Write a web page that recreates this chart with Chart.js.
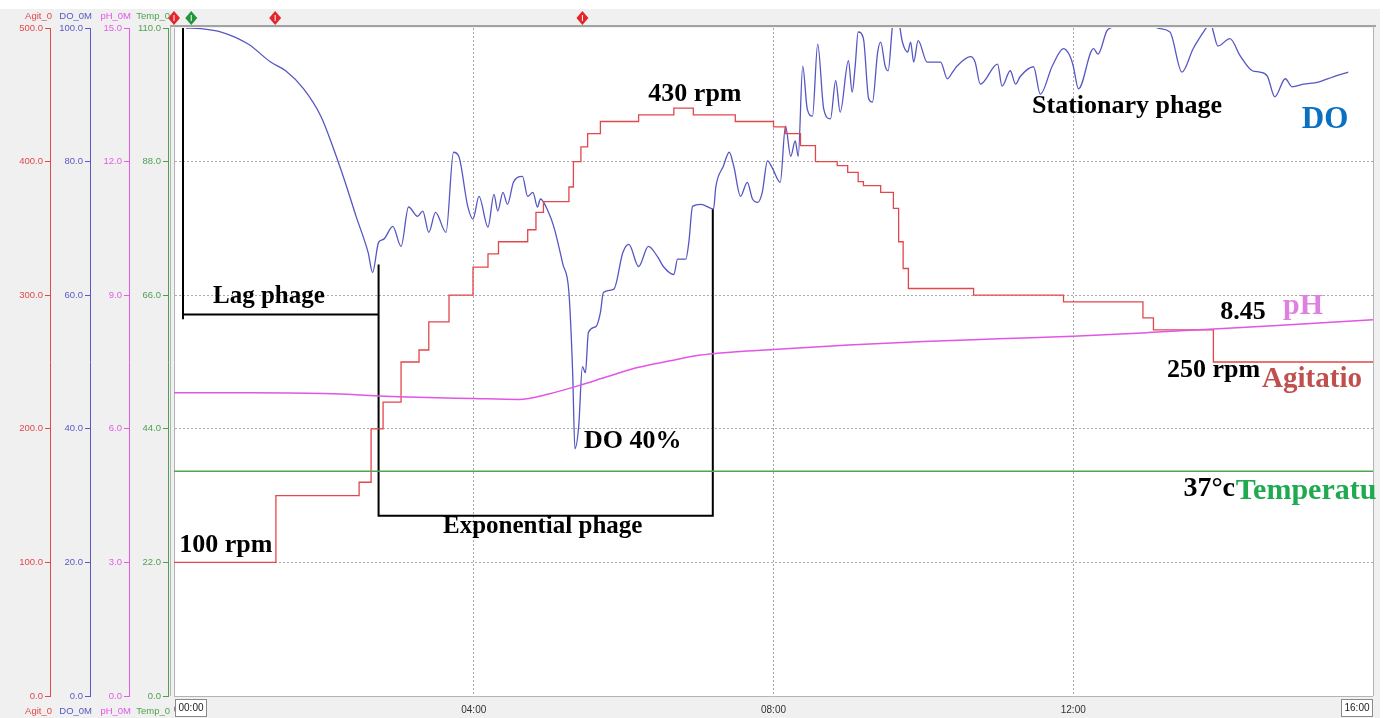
<!DOCTYPE html>
<html lang="en">
<head>
<meta charset="UTF-8">
<title>Fermentation run</title>
<script src="https://cdn.jsdelivr.net/npm/chart.js@4/dist/chart.umd.min.js"></script>
<style>
  html, body { margin: 0; padding: 0; background: #fff; }
  canvas { display: block; }
</style>
</head>
<body>
<canvas id="runChart" width="1399" height="718"></canvas>
<script>
// time axis, hours after inoculation
const hourTicks = [0, 4, 8, 12, 16];

// dissolved oxygen (%)
const doTime = [0.16,0.36,0.63,0.99,1.29,1.49,1.73,1.96,2.13,2.27,2.43,2.59,2.65,2.73,2.80,2.92,3.03,3.13,3.25,3.32,
  3.40,3.49,3.63,3.73,3.80,3.92,3.99,4.07,4.19,4.27,4.32,4.39,4.45,4.53,4.65,4.72,4.79,4.85,4.89,4.99,
  5.07,5.19,5.27,5.32,5.35,5.40,5.45,5.49,5.53,5.63,5.69,5.73,5.87,5.99,6.07,6.20,6.33,6.45,6.53,6.67,
  6.72,6.83,6.87,6.92,7.03,7.20,7.23,7.33,7.41,7.47,7.56,7.65,7.72,7.79,7.85,7.92,7.99,8.09,8.16,8.23,
  8.29,8.33,8.39,8.45,8.52,8.59,8.67,8.76,8.83,8.89,9.00,9.05,9.09,9.13,9.20,9.27,9.32,9.39,9.43,9.49,
  9.53,9.59,9.65,9.72,9.79,9.83,9.87,9.93,10.05,10.23,10.32,10.39,10.45,10.63,10.69,10.76,10.99,11.05,11.16,11.23,
  11.29,11.47,11.56,11.72,11.87,11.96,12.00,12.07,12.27,12.33,12.45,12.53,12.63,13.03,13.09,13.29,13.45,13.60,13.79,13.83,
  13.87,13.93,14.09,14.23,14.39,14.49,14.59,14.69,14.83,14.92,15.07,15.27,15.47,15.67];
const doValue = [100.0,99.9,99.4,97.6,94.9,93.6,90.9,86.8,81.9,77.4,71.8,66.4,63.4,67.9,68.4,70.3,67.3,73.2,71.8,72.6,
  69.4,72.4,69.4,81.4,80.8,73.3,71.4,74.8,70.2,75.1,72.6,75.4,73.6,76.9,77.8,74.8,75.4,73.2,74.4,72.6,
  70.2,64.6,60.4,48.4,37.0,40.3,49.3,48.4,54.4,55.3,57.4,60.4,60.9,66.4,67.6,64.3,67.3,65.8,64.3,63.1,
  65.4,65.4,67.9,73.3,73.6,72.9,76.2,79.3,81.4,79.3,74.8,76.9,74.4,73.9,75.4,80.1,78.9,76.9,85.3,80.8,
  83.1,80.8,94.3,87.9,86.8,97.6,87.9,86.4,92.1,87.4,95.1,90.4,94.3,99.4,98.4,89.4,88.9,96.4,97.9,94.3,
  93.6,100.5,102.0,97.9,96.4,97.9,94.9,98.1,94.9,94.9,92.4,93.4,94.3,95.7,94.9,91.6,94.6,91.3,93.6,91.6,
  92.7,94.2,90.1,94.3,96.9,95.7,94.3,90.9,96.9,96.1,99.6,100.2,101.5,102.0,100.2,99.4,93.4,96.9,100.3,101.0,
  99.4,97.3,98.4,95.8,93.6,93.4,92.8,89.7,92.4,91.2,91.6,91.9,92.7,93.4];

// agitation (rpm); each setpoint holds until the next change
const agitTime = [0,1.36,2.47,2.63,2.79,3.03,3.27,3.40,3.67,3.99,4.19,4.33,4.72,4.83,4.93,5.27,5.33,5.43,5.52,5.69,
  6.20,6.67,6.93,7.49,8.00,8.16,8.36,8.56,8.85,8.99,9.13,9.20,9.43,9.60,9.67,9.73,9.80,10.67,11.87,12.93,
  13.07,13.87,16.0];
const agitValue = [100,150,160,200,220,250,259,280,300,321,331,340,349,362,370,381,400,411,421,430,
  435,440,435,430,426,421,412,400,397,392,385,382,377,365,340,320,305,300,295,283,
  274,250,250];

// pH
const phTime = [0,1,2,3,4,4.6,5.0,5.4,5.8,6.2,6.6,7.0,7.5,8,9,10,11,12,13,14,15,16];
const phValue = [6.81,6.81,6.79,6.72,6.68,6.66,6.78,6.97,7.18,7.38,7.52,7.65,7.73,7.78,7.88,7.96,8.02,8.08,8.16,8.25,8.35,8.45];

// temperature (°C)
const tempTime = [0, 16];
const tempValue = [37, 37];

// phase brackets, drawn against the DO axis (null breaks the line)
const bracketTime = [0.12, 0.12, 0.12, 0.12, 2.73, 2.73, 2.73, 2.73, 7.19, 7.19, 7.19];
const bracketDo = [100.2, 56.4, null, 57.1, 57.1, null, 64.6, 27.0, 27.0, 27.0, 72.9];

// event markers on the top strip
const eventTime = [0, 0.23, 1.35, 5.45];
const eventColor = ['#e3262b', '#22963a', '#e3262b', '#e3262b'];

const AGIT = '#e2474b', DOC = '#5656c4', PHC = '#e255e6', TEMPC = '#4fa352';

function zip(xs, ys) { return xs.map((x, i) => ({x: x, y: ys[i]})); }

// annotation texts: x in hours, y in DO units
const notes = [
  {text: 'Lag phage', x: 0.52, y: 59.8, color: '#000', size: 25},
  {text: 'Exponential phage', x: 3.59, y: 25.3, color: '#000', size: 25},
  {text: '100 rpm', x: 0.07, y: 22.5, color: '#000', size: 26},
  {text: '430 rpm', x: 6.33, y: 90.1, color: '#000', size: 26},
  {text: 'DO 40%', x: 5.47, y: 38.2, color: '#000', size: 26},
  {text: 'Stationary phage', x: 11.45, y: 88.3, color: '#000', size: 26},
  {text: 'DO', x: 15.05, y: 86.2, color: '#0a70c2', size: 31},
  {text: '8.45', x: 13.96, y: 57.4, color: '#000', size: 26},
  {text: 'pH', x: 14.8, y: 58.3, color: '#df7fe0', size: 30},
  {text: '250 rpm', x: 13.25, y: 48.7, color: '#000', size: 26},
  {text: 'Agitatio', x: 14.52, y: 47.4, color: '#c0504d', size: 29},
  {text: '37°c', x: 13.47, y: 31.0, color: '#000', size: 28},
  {text: 'Temperatu', x: 14.17, y: 30.7, color: '#1faa50', size: 30}
];

const axisTitles = [
  {id: 'agit', text: 'Agit_0', color: AGIT},
  {id: 'do', text: 'DO_0M', color: DOC},
  {id: 'ph', text: 'pH_0M', color: PHC},
  {id: 'temp', text: 'Temp_0', color: TEMPC}
];

const decorations = {
  id: 'decorations',
  beforeDraw(chart) {
    const ctx = chart.ctx, a = chart.chartArea;
    ctx.save();
    ctx.fillStyle = '#ffffff';
    ctx.fillRect(0, 0, chart.width, chart.height);
    ctx.fillStyle = '#f0f0f0';
    ctx.fillRect(0, 9, a.right + 7, chart.height - 9);
    ctx.fillStyle = '#ffffff';
    ctx.fillRect(a.left, a.top, a.right - a.left, a.bottom - a.top);
    ctx.restore();
  },
  afterDraw(chart) {
    const ctx = chart.ctx, a = chart.chartArea, xs = chart.scales.x, ys = chart.scales.do;
    ctx.save();
    // plot frame
    ctx.strokeStyle = '#a2a2a2';
    ctx.lineWidth = 2;
    ctx.beginPath();
    ctx.moveTo(a.left - 4, a.top - 2); ctx.lineTo(a.right + 3, a.top - 2);
    ctx.stroke();
    ctx.lineWidth = 1;
    ctx.strokeStyle = '#b4b4b4';
    ctx.beginPath();
    ctx.moveTo(a.left - 3.5, a.top - 2); ctx.lineTo(a.left - 3.5, a.bottom);
    ctx.moveTo(a.right + 0.5, a.top - 2); ctx.lineTo(a.right + 0.5, a.bottom);
    ctx.moveTo(a.left, a.bottom + 0.5); ctx.lineTo(a.right, a.bottom + 0.5);
    ctx.stroke();

    // event markers
    eventTime.forEach((t, i) => {
      const px = xs.getPixelForValue(t), py = 18;
      ctx.fillStyle = eventColor[i];
      ctx.beginPath();
      ctx.moveTo(px, py - 7); ctx.lineTo(px + 6, py); ctx.lineTo(px, py + 7); ctx.lineTo(px - 6, py);
      ctx.closePath();
      ctx.fill();
      ctx.strokeStyle = '#ffffff';
      ctx.lineWidth = 1;
      ctx.beginPath();
      ctx.moveTo(px, py - 3); ctx.lineTo(px, py + 3);
      ctx.stroke();
    });

    // axis names above and below each value axis
    ctx.font = '9.5px "Liberation Sans"';
    ctx.textAlign = 'right';
    ctx.textBaseline = 'middle';
    axisTitles.forEach(t => {
      const s = chart.scales[t.id];
      ctx.fillStyle = t.color;
      ctx.fillText(t.text, s.right + 2, 16);
      ctx.fillText(t.text, s.right + 2, 711);
    });

    // boxed start and end times
    ctx.font = '10px "Liberation Sans"';
    ctx.textBaseline = 'middle';
    [[hourTicks[0], 'left'], [hourTicks[hourTicks.length - 1], 'right']].forEach(([h, side]) => {
      const label = String(h).padStart(2, '0') + ':00';
      const px = xs.getPixelForValue(h);
      const w = 31, bx = side === 'left' ? px + 1 : px - w - 1;
      ctx.fillStyle = '#ffffff';
      ctx.fillRect(bx, 699, w, 17);
      ctx.strokeStyle = '#8a8a8a';
      ctx.strokeRect(bx + 0.5, 699.5, w, 17);
      ctx.fillStyle = '#222';
      ctx.textAlign = 'center';
      ctx.fillText(label, bx + w / 2 + 0.5, 708);
    });

    // phase and value notes
    ctx.textAlign = 'left';
    ctx.textBaseline = 'middle';
    notes.forEach(n => {
      ctx.font = 'bold ' + n.size + 'px "Liberation Serif"';
      ctx.fillStyle = n.color;
      ctx.fillText(n.text, xs.getPixelForValue(n.x), ys.getPixelForValue(n.y));
    });
    ctx.restore();
  }
};

const tickFont = {family: 'Liberation Sans', size: 9.5};
function valueAxis(color, max, step, weight, width, extra) {
  return Object.assign({
    type: 'linear', position: 'left', min: 0, max: max, weight: weight,
    afterFit: s => { s.width = width; },
    ticks: {stepSize: step, autoSkip: false, color: color, font: tickFont, padding: 2,
      callback: v => Number(v).toFixed(1)},
    grid: {drawOnChartArea: false, color: color, tickLength: 5},
    border: {color: color}
  }, extra || {});
}

new Chart(document.getElementById('runChart'), {
  type: 'line',
  data: {
    datasets: [
      {label: 'Temp', data: zip(tempTime, tempValue), yAxisID: 'temp', borderColor: TEMPC, borderWidth: 1.5},
      {label: 'pH', data: zip(phTime, phValue), yAxisID: 'ph', borderColor: PHC, borderWidth: 1.5,
        cubicInterpolationMode: 'monotone'},
      {label: 'Agit', data: zip(agitTime, agitValue), yAxisID: 'agit', borderColor: AGIT, borderWidth: 1.3,
        stepped: 'before'},
      {label: 'DO', data: zip(doTime, doValue), yAxisID: 'do', borderColor: DOC, borderWidth: 1.3,
        cubicInterpolationMode: 'monotone'},
      {label: 'phases', data: zip(bracketTime, bracketDo), yAxisID: 'do', borderColor: '#000', borderWidth: 2,
        spanGaps: false}
    ]
  },
  options: {
    responsive: false,
    animation: false,
    devicePixelRatio: 1,
    elements: {point: {radius: 0, hoverRadius: 0}, line: {borderCapStyle: 'butt'}},
    layout: {padding: {top: 28, right: 26, bottom: 0, left: 0}},
    plugins: {legend: {display: false}, tooltip: {enabled: false}},
    events: [],
    scales: {
      x: {
        type: 'linear', min: 0, max: 16,
        afterBuildTicks: s => { s.ticks = hourTicks.map(v => ({value: v})); },
        afterFit: s => { s.height = 22; },
        grid: {drawTicks: false,
          color: c => (c.tick && (c.tick.value === 0 || c.tick.value === 16)) ? 'rgba(0,0,0,0)' : '#a9a9a9'},
        border: {display: false, dash: [2, 2]},
        ticks: {align: 'inner', padding: 8, color: '#333', font: {family: 'Liberation Sans', size: 10}, maxRotation: 0,
          callback: v => String(v).padStart(2, '0') + ':00'}
      },
      agit: valueAxis('#e0494e', 500, 100, 4, 50),
      do: valueAxis('#5a5ac6', 100, 20, 3, 40),
      ph: valueAxis('#e25ce6', 15, 3, 2, 39),
      temp: valueAxis('#4f9f52', 110, 22, 1, 39, {
        grid: {drawOnChartArea: true, tickLength: 5, tickColor: '#4f9f52',
          color: c => (c.tick && (c.tick.value === 0 || c.tick.value === 110)) ? 'rgba(0,0,0,0)' : '#a9a9a9'},
        border: {color: '#4f9f52', dash: [2, 2]}
      }),
      frame: {type: 'linear', position: 'left', min: 0, max: 1, weight: 0,
        afterFit: s => { s.width = 6; },
        ticks: {display: false}, grid: {display: false}, border: {color: '#b4b4b4'}}
    }
  },
  plugins: [decorations]
});
</script>
</body>
</html>
